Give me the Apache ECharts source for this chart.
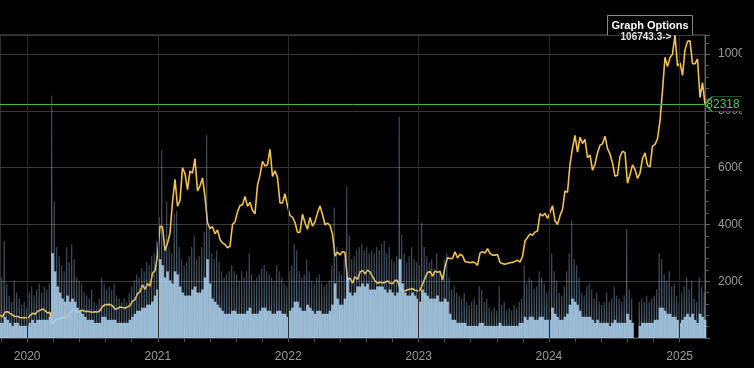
<!DOCTYPE html>
<html><head><meta charset="utf-8">
<script src="https://cdn.jsdelivr.net/npm/echarts@6/dist/echarts.min.js"></script>
<style>html,body{margin:0;padding:0;background:#000;overflow:hidden}#c{width:742px;height:368px}</style>
</head><body><div id="c"></div>
<script>
// Weekly closes (Thursdays), first week 2019-10-17
const price2019 = [8000, 7450, 9150, 9250, 8650, 8100, 7550, 7550, 7200, 7150, 7200, 6950];
const price2020 = [7850, 8750, 8400, 9380, 9750, 10250, 9650, 8800, 9050, 4950, 6200, 6750, 6800, 7300, 7100, 7500, 8650, 9950, 9800, 9050, 9550, 9800, 9300, 9400, 9250, 9100, 9250, 9150, 9600, 11100, 11750, 11750, 11850, 11300, 10200, 10350, 10950, 10750, 10600, 10900, 11500, 12980, 13450, 15600, 16300, 18700, 17150, 19200, 18250, 22800, 23700, 29000];
const price2021 = [39400, 39200, 30800, 33400, 36900, 47900, 55900, 46400, 48400, 60000, 57900, 52300, 58800, 58100, 63200, 51800, 53600, 56400, 49700, 40600, 38500, 39200, 36700, 38100, 34700, 33500, 32900, 31800, 32300, 40000, 40900, 44400, 46700, 46900, 49900, 46400, 47800, 44900, 43800, 53800, 57400, 62200, 60600, 61000, 66500, 56900, 58900, 56500, 47600, 47600, 50800, 46500];
const price2022 = [43100, 42600, 40700, 37200, 37300, 43600, 40600, 38300, 42500, 39400, 40900, 44000, 46500, 43500, 39900, 40500, 39700, 36500, 28900, 30300, 29200, 30500, 30100, 20400, 21100, 19300, 21600, 20600, 23200, 23800, 22600, 23900, 23300, 21600, 20100, 19300, 19700, 19400, 19600, 20100, 19400, 19100, 20300, 20200, 17600, 16700, 16600, 17000, 17200, 17400, 16800, 16600];
const price2023 = [16850, 18850, 21100, 23050, 23450, 21800, 23550, 23200, 23500, 20400, 25000, 28300, 28000, 28000, 30400, 28200, 29500, 29000, 26900, 26800, 26500, 26800, 26500, 25600, 29900, 30450, 29900, 31450, 29800, 29200, 29200, 29400, 26600, 26200, 25950, 26250, 26550, 26600, 27000, 27400, 26750, 28700, 34150, 35400, 36700, 36200, 37300, 37700, 43800, 43000, 43900, 42100, 44200];
const price2024 = [46600, 41300, 40000, 43100, 45300, 51800, 51300, 61200, 66900, 71400, 65500, 70750, 68500, 70000, 63500, 64500, 59100, 61200, 65200, 67900, 68400, 71100, 66700, 64900, 61600, 57000, 57300, 63900, 65800, 65300, 54500, 57500, 61000, 59400, 56200, 58100, 63200, 65200, 60800, 60300, 67600, 68200, 70200, 76500, 87200, 98900, 95600, 98800, 100000, 106743.3, 95800, 97000];
const price2025 = [92500, 101500, 104500, 104700, 96600, 96600, 98300, 84700, 90000, 82318];

// Weekly volume: peak day of the week and typical day (arbitrary units)
const volPeak2019 = [12, 20, 32, 18, 14, 12, 19, 15, 13, 11, 12, 10];
const volPeak2020 = [15, 17, 14, 16, 18, 15, 17, 16, 18, 80, 45, 30, 27, 24, 22, 30, 25, 31, 26, 20, 19, 18, 15, 14, 13, 16, 12, 11, 13, 20, 18, 16, 17, 16, 18, 14, 13, 12, 13, 12, 15, 17, 19, 21, 20, 23, 22, 25, 24, 27, 28, 32];
const volPeak2021 = [40, 62, 30, 45, 30, 28, 41, 42, 30, 26, 24, 25, 27, 30, 34, 26, 27, 30, 35, 67, 36, 28, 26, 29, 25, 22, 20, 21, 22, 24, 22, 21, 19, 22, 20, 22, 28, 21, 19, 20, 21, 23, 24, 22, 21, 20, 19, 24, 22, 20, 18, 17];
const volPeak2022 = [22, 24, 31, 29, 22, 20, 21, 26, 22, 19, 18, 20, 21, 18, 17, 18, 19, 24, 43, 30, 22, 21, 26, 50, 34, 26, 27, 29, 30, 31, 29, 30, 28, 29, 28, 30, 29, 31, 32, 28, 30, 26, 25, 27, 73, 34, 28, 25, 27, 30, 26, 25];
const volPeak2023 = [24, 38, 30, 27, 25, 26, 23, 28, 22, 21, 26, 28, 20, 16, 17, 15, 14, 13, 15, 12, 11, 12, 13, 11, 17, 16, 12, 13, 10, 9, 10, 9, 17, 11, 12, 9, 10, 9, 11, 10, 12, 13, 24, 18, 20, 19, 16, 17, 22, 20, 18, 15, 16];
const volPeak2024 = [28, 22, 19, 15, 14, 17, 22, 28, 39, 26, 24, 20, 15, 14, 17, 18, 16, 13, 15, 12, 11, 12, 15, 12, 13, 17, 14, 13, 12, 14, 36, 16, 13, 0, 0, 12, 13, 12, 14, 12, 13, 14, 16, 28, 26, 21, 19, 22, 17, 18, 14, 12];
const volPeak2025 = [15, 17, 20, 16, 19, 13, 12, 20, 17, 15];

const volBase2019 = [5, 5, 7, 6, 5, 4, 5, 5, 4, 4, 4, 4];
const volBase2020 = [5, 6, 5, 6, 6, 6, 6, 6, 7, 28, 22, 17, 15, 13, 12, 14, 12, 13, 12, 10, 9, 8, 7, 6, 6, 6, 5, 5, 5, 7, 7, 6, 6, 6, 6, 5, 5, 5, 5, 5, 6, 7, 8, 9, 9, 10, 10, 11, 11, 12, 14, 16];
const volBase2021 = [26, 24, 20, 22, 19, 18, 22, 21, 17, 15, 14, 14, 14, 16, 17, 15, 15, 16, 20, 26, 18, 13, 12, 11, 10, 9, 8, 8, 8, 9, 9, 8, 8, 8, 8, 9, 10, 8, 8, 8, 9, 10, 10, 9, 9, 8, 8, 9, 9, 8, 8, 7];
const volBase2022 = [9, 10, 12, 12, 10, 9, 9, 11, 10, 9, 8, 9, 9, 8, 8, 8, 9, 11, 18, 13, 11, 11, 13, 20, 15, 14, 15, 17, 17, 18, 17, 18, 16, 16, 16, 17, 17, 17, 16, 15, 16, 15, 14, 15, 26, 18, 15, 14, 14, 15, 14, 13];
const volBase2023 = [12, 16, 15, 14, 13, 13, 13, 14, 12, 12, 13, 12, 8, 6, 6, 5, 5, 5, 5, 4, 4, 4, 4, 4, 5, 5, 4, 4, 4, 4, 4, 4, 5, 4, 4, 4, 4, 4, 4, 4, 5, 5, 7, 6, 7, 7, 6, 6, 7, 7, 6, 6, 6];
const volBase2024 = [10, 8, 7, 6, 6, 7, 8, 11, 13, 12, 11, 9, 7, 7, 7, 7, 6, 5, 6, 5, 5, 5, 5, 4, 5, 6, 5, 5, 5, 5, 8, 6, 5, 0, 0, 4, 5, 5, 5, 5, 5, 6, 6, 10, 10, 9, 8, 8, 7, 7, 6, 5];
const volBase2025 = [6, 7, 8, 7, 8, 6, 5, 8, 7, 6];

const yearLabels = [2020, 2021, 2022, 2023, 2024, 2025];
const priceInterval = 20000;
const firstWeek = '2019-10-17';

const prices = [].concat(price2019, price2020, price2021, price2022, price2023, price2024, price2025);
const volPeak = [].concat(volPeak2019, volPeak2020, volPeak2021, volPeak2022, volPeak2023, volPeak2024, volPeak2025);
const volBase = [].concat(volBase2019, volBase2020, volBase2021, volBase2022, volBase2023, volBase2024, volBase2025);

const DAY = 864e5;
const t0 = Date.parse(firstWeek + 'T00:00:00Z');
const dates = prices.map((_, i) => t0 + i * 7 * DAY);
const tEnd = dates[dates.length - 1];
const maxPrice = Math.max(...prices);
const lastPrice = prices[prices.length - 1];

const yearStarts = yearLabels.map(y => Date.UTC(y, 0, 1));
const tickValues = [];
for (let y = 2019; y <= 2025; y++) {
  const a = Date.UTC(y, 0, 1), b = Date.UTC(y + 1, 0, 1);
  for (let k = 0; k < 5; k++) {
    const t = a + k * (b - a) / 5;
    if (t >= t0 && t <= tEnd) tickValues.push(t);
  }
}

const FONT = 'Liberation Sans, Arial, Helvetica, sans-serif';
const chart = echarts.init(document.getElementById('c'), null, {renderer: 'canvas'});
chart.setOption({
  backgroundColor: '#000',
  animation: false,
  textStyle: {fontFamily: FONT},
  grid: {left: 0, right: 37, top: 35, bottom: 30, show: true, borderColor: '#5c5c5c', borderWidth: 1,
    containLabel: false, outerBoundsMode: 'none'},
  xAxis: {
    type: 'value', min: t0, max: tEnd,
    axisLine: {show: true, lineStyle: {color: '#444'}},
    axisTick: {show: true, customValues: tickValues, length: 4, lineStyle: {color: '#555'}},
    axisLabel: {customValues: yearStarts, formatter: v => String(new Date(v).getUTCFullYear()),
      color: '#9a9a9a', fontSize: 12, margin: 13},
    splitLine: {show: false}
  },
  yAxis: [{
    type: 'value', position: 'right', min: 0, max: maxPrice, interval: priceInterval,
    axisLine: {show: true, lineStyle: {color: '#666'}},
    axisTick: {show: true, length: 5, lineStyle: {color: '#666'}},
    minorTick: {show: true, splitNumber: 5, length: 4, lineStyle: {color: '#555'}},
    axisLabel: {showMinLabel: false, showMaxLabel: false, color: '#9a9a9a', fontSize: 12, margin: 13,
      formatter: v => String(v)},
    splitLine: {show: true, lineStyle: {color: '#3a3a3a'}}
  }, {
    type: 'value', show: false, min: 0, max: 100
  }],
  series: [{
    type: 'line', yAxisIndex: 0, data: prices.map((v, i) => [dates[i], v]),
    showSymbol: false, z: 2,
    lineStyle: {color: '#f2c14e', width: 1.6}, itemStyle: {color: '#f2c14e'},
    markLine: {
      silent: true, symbol: 'none', label: {show: false},
      data: yearStarts.map(t => ({xAxis: t, lineStyle: {color: '#2c2c2c', width: 1, type: 'solid'}}))
        .concat([{yAxis: lastPrice, lineStyle: {color: '#4caf50', width: 1, type: 'solid'}}])
    },
    markPoint: {
      silent: true,
      symbol: 'path://M0,7 L7,0 L60,0 L60,14 L7,14 Z', symbolSize: [60, 15], symbolOffset: [30, 0],
      itemStyle: {color: '#000', borderColor: '#43a843', borderWidth: 1},
      label: {show: true, position: 'inside', offset: [-12, 0], color: '#55c455', fontSize: 12,
        formatter: () => String(lastPrice)},
      data: [{coord: [tEnd, lastPrice]}]
    }
  }, {
    type: 'bar', yAxisIndex: 1, data: volPeak.map((v, i) => [dates[i], v]),
    barWidth: 1.1, z: 3,
    itemStyle: {color: {type: 'linear', x: 0, y: 0, x2: 0, y2: 1, colorStops: [
      {offset: 0, color: 'rgba(140,175,205,0.45)'}, {offset: 1, color: 'rgba(160,196,228,0.7)'}]}}
  }, {
    type: 'bar', yAxisIndex: 1, data: volBase.map((v, i) => [dates[i], v]),
    barWidth: 2.7, barGap: '-100%', z: 3, itemStyle: {color: 'rgba(168,204,232,0.9)'}
  }],
  graphic: [
    {type: 'rect', z: 0, shape: {x: 607.5, y: 15.5, width: 85, height: 20},
      style: {fill: '#000', stroke: '#8a8a8a', lineWidth: 1}},
    {type: 'text', z: 1, x: 650, y: 25.5,
      style: {text: 'Graph Options', fill: '#ffffff', font: 'bold 11px ' + FONT, align: 'center', verticalAlign: 'middle'}},
    {type: 'text', z: 1, x: 646, y: 37,
      style: {text: maxPrice + '->', fill: '#e6e6e6', font: 'bold 10px ' + FONT, align: 'center', verticalAlign: 'middle'}}
  ]
});
</script></body></html>
